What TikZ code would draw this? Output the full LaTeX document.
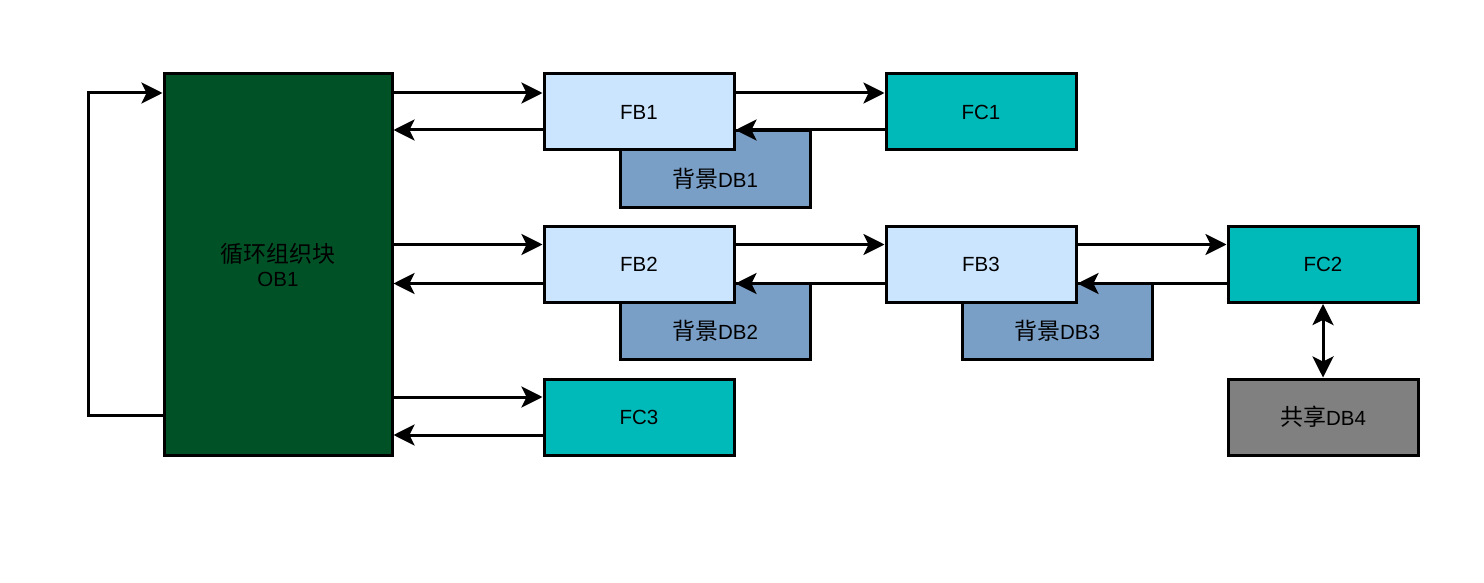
\documentclass[tikz,border=0pt]{standalone}
\usepackage{fontspec}
\setmainfont{Liberation Sans}
\newfontfamily\cjk[Scale=1.12]{Noto Sans CJK SC}
\usetikzlibrary{arrows.meta,calc}
\definecolor{obgreen}{HTML}{005226}
\definecolor{fbblue}{HTML}{CCE5FF}
\definecolor{dbblue}{HTML}{7A9FC7}
\definecolor{fcteal}{HTML}{00BABA}
\definecolor{dbgray}{HTML}{808080}
\begin{document}
\begin{tikzpicture}[x=1pt,y=-1pt,
    font=\fontsize{20.5}{24}\selectfont,
    >={Stealth[length=21pt,width=21pt,inset=5pt]},
    blk/.style={draw,line width=3pt,minimum width=190pt,minimum height=76pt,inner sep=0pt},
    fbbox/.style={blk,fill=fbblue},
    fcbox/.style={blk,fill=fcteal},
    dbbox/.style={blk,fill=dbblue},
    arr/.style={line width=3pt,->},
    arrboth/.style={line width=3pt,<->}]
  \useasboundingbox (0,0) rectangle (1484,583);
  % background data blocks first, function blocks on top
  \draw
    (715,169) node[dbbox,label={[yshift=-10pt]center:{\cjk 背景}DB1}] (db1){}
    (715,321) node[dbbox,label={[yshift=-10pt]center:{\cjk 背景}DB2}] (db2){}
    (1057,321) node[dbbox,label={[yshift=-10pt]center:{\cjk 背景}DB3}] (db3){}
    (278,264.5) node[blk,fill=obgreen,minimum width=228pt,minimum height=381pt,align=center] (ob1){{\cjk 循环组织块}\\OB1}
    (639,112) node[fbbox] (fb1){FB1}
    (981,112) node[fcbox] (fc1){FC1}
    (639,264.5) node[fbbox] (fb2){FB2}
    (981,264.5) node[fbbox] (fb3){FB3}
    (1323,264.5) node[fcbox] (fc2){FC2}
    (639,417) node[fcbox] (fc3){FC3}
    (1323,417) node[blk,fill=dbgray] (db4){{\cjk 共享}DB4};
  \coordinate (lpb) at (88,415);
  \coordinate (lpt) at (88,93);
  \begin{scope}[arr]
    \draw ($(ob1.east|-fb1.west)+(0,-19)$) to ($(fb1.west)+(0,-19)$);
    \draw ($(fb1.west)+(0,18)$) to ($(ob1.east|-fb1.west)+(0,18)$);
    \draw ($(fb1.east)+(0,-19)$) to ($(fc1.west)+(0,-19)$);
    \draw ($(fc1.west)+(0,18)$) to ($(fb1.east)+(0,18)$);
    \draw ($(ob1.east|-fb2.west)+(0,-20)$) to ($(fb2.west)+(0,-20)$);
    \draw ($(fb2.west)+(0,19)$) to ($(ob1.east|-fb2.west)+(0,19)$);
    \draw ($(fb2.east)+(0,-20)$) to ($(fb3.west)+(0,-20)$);
    \draw ($(fb3.west)+(0,19)$) to ($(fb2.east)+(0,19)$);
    \draw ($(fb3.east)+(0,-20)$) to ($(fc2.west)+(0,-20)$);
    \draw ($(fc2.west)+(0,19)$) to ($(fb3.east)+(0,19)$);
    \draw ($(ob1.east|-fc3.west)+(0,-20)$) to ($(fc3.west)+(0,-20)$);
    \draw ($(fc3.west)+(0,18)$) to ($(ob1.east|-fc3.west)+(0,18)$);
    \draw (ob1.west|-lpb) -- (lpb) -- (lpt) -- (ob1.west|-lpt);
  \end{scope}
  \draw[arrboth] (fc2.south) to (db4.north);
\end{tikzpicture}
\end{document}
